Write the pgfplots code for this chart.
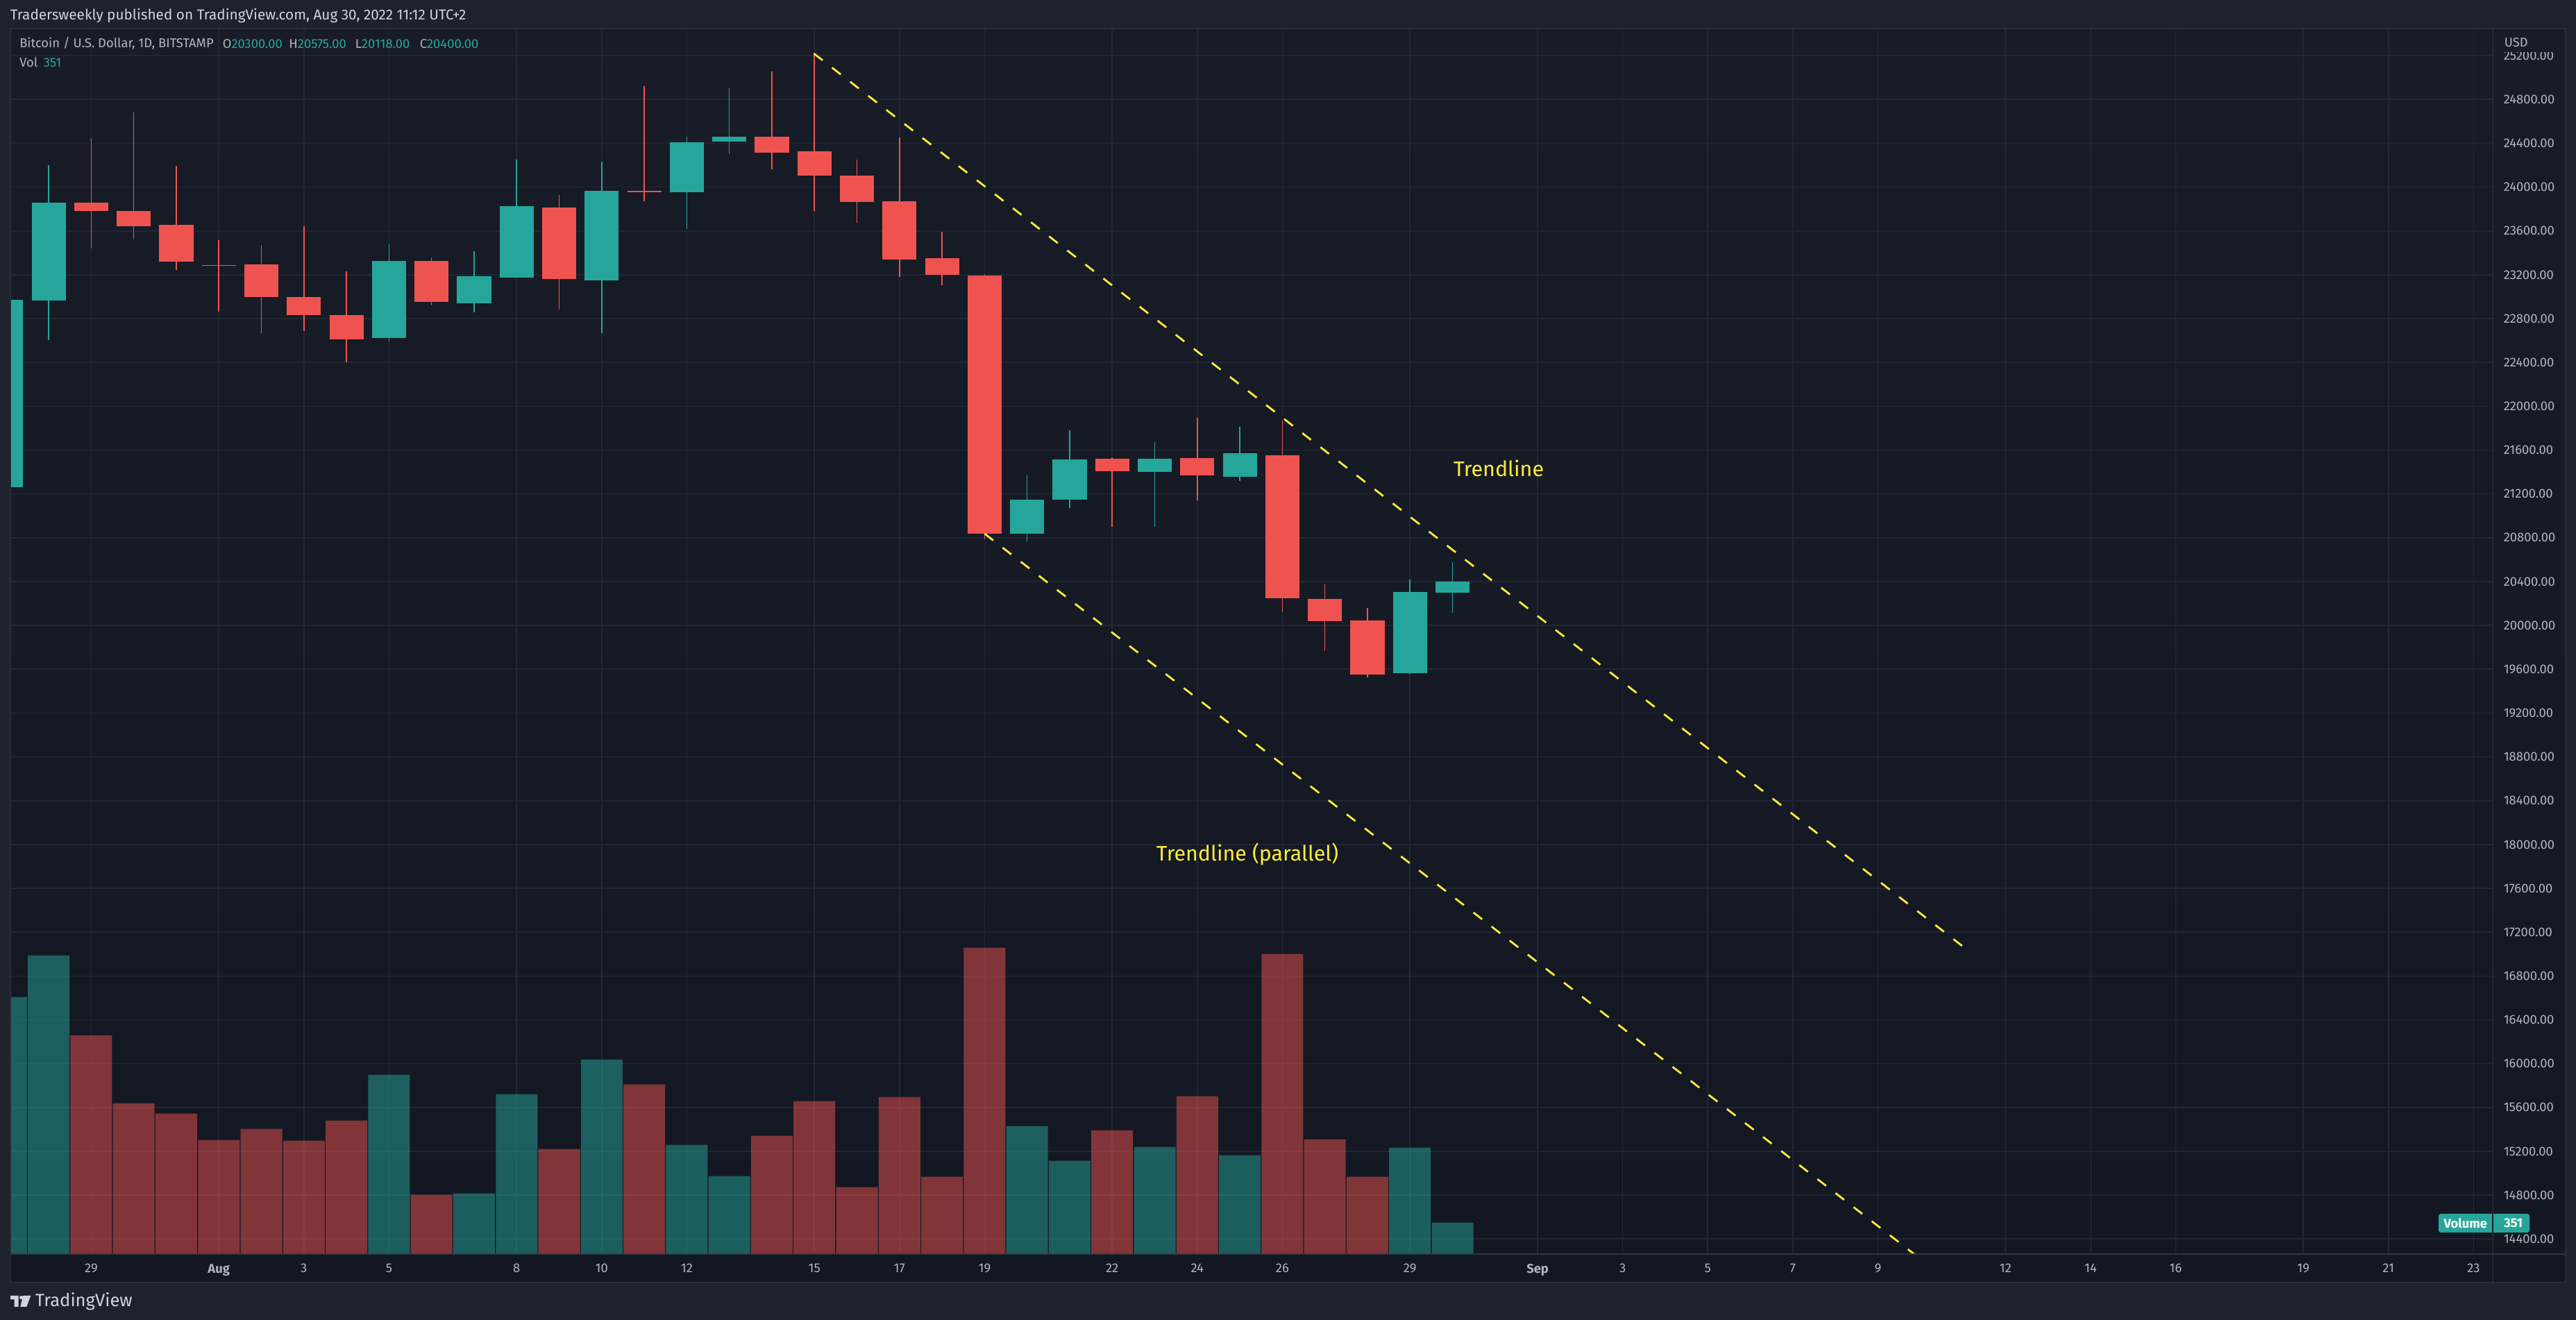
\documentclass[border=0pt]{standalone}
\usepackage{pgfplots}
\usepackage{pgfplotstable}
\usepackage{fontspec}
\pgfplotsset{compat=1.18}
\setmainfont{Fira Sans}
\definecolor{outer}{HTML}{1E222D}
\definecolor{bgA}{HTML}{181C27}
\definecolor{bgB}{HTML}{131722}
\definecolor{frame}{HTML}{2A2E39}
\definecolor{sep}{HTML}{32363F}
\definecolor{gridc}{HTML}{232733}
\definecolor{upc}{HTML}{26A69A}
\definecolor{dnc}{HTML}{EF5350}
\definecolor{txt}{HTML}{B2B5BE}
\definecolor{hdr}{HTML}{D1D4DC}
\definecolor{yel}{HTML}{FFEB3B}
% d = days since Jul 29
\pgfplotstableread{
d open high low close
-2 21262 23000 21100 22972
-1 22968 24201 22604 23859
7 22623 23479 22592 23327
9 22940 23415 22858 23187
10 23175 24251 23175 23827
12 23149 24232 22668 23966
14 23954 24460 23618 24410
15 24416 24904 24302 24460
22 20837 21369 20768 21148
23 21148 21781 21072 21515
25 21401 21673 20901 21521
27 21357 21813 21319 21572
31 19564 20419 19558 20305
32 20300 20575 20118 20400
}\upt
\pgfplotstableread{
d open high low close
0 23859 24448 23443 23783
1 23783 24682 23523 23643
2 23656 24194 23244 23320
3 23289 23517 22864 23282
4 23295 23472 22668 22997
5 22997 23643 22687 22833
6 22833 23232 22402 22611
8 23327 23358 22921 22953
11 23814 23928 22883 23162
13 23966 24923 23871 23954
16 24460 25056 24163 24315
17 24327 25223 23783 24106
18 24106 24251 23675 23865
19 23871 24454 23181 23339
20 23352 23593 23105 23200
21 23194 23206 20787 20837
24 21521 21534 20901 21407
26 21528 21895 21141 21369
28 21553 21870 20122 20248
29 20242 20375 19767 20039
30 20046 20160 19526 19551
}\dnt
\pgfplotstableread{
d vol
-2 2870
-1 3335
7 2002
9 677
10 1785
12 2172
14 1219
15 870
22 1428
23 1041
25 1196
27 1103
31 1188
32 351
}\upv
\pgfplotstableread{
d vol
0 2443
1 1684
2 1568
3 1273
4 1397
5 1266
6 1490
8 661
11 1173
13 1893
16 1320
17 1707
18 746
19 1754
20 863
21 3420
24 1382
26 1762
28 3350
29 1281
30 863
}\dnv
\pgfplotsset{chartbox/.style={
  scale only axis, width=893.875pt, height=441.5pt,
  at={(4pt,23.75pt)}, anchor=south west,
  xmin=-1.883, xmax=56.46}}
\begin{document}
\begin{tikzpicture}
\useasboundingbox (0,0) rectangle (927.75pt,475.5pt);
\fill[outer] (0,0) rectangle (927.75pt,475.5pt);
\begin{scope}[x=.25pt,y=-.25pt,shift={(0pt,475.5pt)}]
\shade[top color=bgA,bottom color=bgB] (15,41) rectangle (3696,1848);
\end{scope}
\begin{axis}[chartbox,
  ymin=14262.6, ymax=25448,
  axis line style={draw=none},
  major tick length=0pt,
  xmajorgrids, ymajorgrids,
  grid style={gridc, line width=.4pt},
  scaled y ticks=false,
  ytick={14400,14800,15200,15600,16000,16400,16800,17200,17600,18000,18400,18800,19200,19600,20000,20400,20800,21200,21600,22000,22400,22800,23200,23600,24000,24400,24800,25200},
  yticklabel pos=right,
  yticklabel style={/pgf/number format/.cd,fixed,fixed zerofill,precision=2,1000 sep={},assume math mode=true,
    /tikz/.cd,anchor=west,inner sep=0pt,xshift=3.6pt,text=txt,font=\fontsize{4.6}{5}\selectfont},
  xtick={-2,0,3,5,7,10,12,14,17,19,21,24,26,28,31,34,36,38,40,42,45,47,49,52,54,56},
  xticklabels={27,29,{\bfseries Aug},3,5,8,10,12,15,17,19,22,24,26,29,{\bfseries Sep},3,5,7,9,12,14,16,19,21,23},
  xticklabel style={anchor=north,inner sep=0pt,yshift=-3.4pt,text=txt,font=\fontsize{4.6}{5}\selectfont},
  clip=true,
]
\addplot[draw=none,mark=none,error bars/.cd,y dir=minus,y explicit,error mark=none,
  error bar style={upc,line width=.38pt}]
  table[x=d,y=high,y error expr=\thisrow{high}-\thisrow{low}] {\upt};
\addplot[draw=none,mark=none,error bars/.cd,y dir=minus,y explicit,error mark=none,
  error bar style={dnc,line width=.38pt}]
  table[x=d,y=high,y error expr=\thisrow{high}-\thisrow{low}] {\dnt};
\addplot[draw=none,mark=none,error bars/.cd,y dir=minus,y explicit,error mark=none,
  error bar style={upc,line width=12.3pt}]
  table[x=d,y=close,y error expr=\thisrow{close}-\thisrow{open}] {\upt};
\addplot[draw=none,mark=none,error bars/.cd,y dir=minus,y explicit,error mark=none,
  error bar style={dnc,line width=12.3pt}]
  table[x=d,y=open,y error expr=\thisrow{open}-\thisrow{close}] {\dnt};
\addplot[yel,line width=.7pt,dash pattern=on 3.95pt off 4.3pt] coordinates {(16.99,25218) (43.98,17075)};
\addplot[yel,line width=.7pt,dash pattern=on 3.95pt off 4.3pt] coordinates {(21.0,20837) (42.85,14263)};
\end{axis}
\begin{axis}[chartbox,
  ymin=0, ymax=13686, hide axis,
  ybar, bar width=15pt, bar shift=0pt, clip=true]
\addplot[fill=upc,fill opacity=.5,draw=none] table[x=d,y=vol] {\upv};
\addplot[fill=dnc,fill opacity=.5,draw=none] table[x=d,y=vol] {\dnv};
\end{axis}
\begin{scope}[x=.25pt,y=-.25pt,shift={(0pt,475.5pt)}]
% masks
\fill[outer] (0,41) rectangle (14,1848);
\fill[bgA] (3594,42) rectangle (3695,75);
% frame and separators
\draw[frame,line width=.5pt] (15,41) rectangle (3696,1848);
\draw[sep,line width=.4pt] (3591.5,41) -- (3591.5,1848);
\draw[sep,line width=.5pt] (15,1807) -- (3591.5,1807);
\draw[sep,line width=.5pt] (3591.5,1807) -- (3696,1807);
% header
\node[anchor=west,inner sep=0pt,text=hdr,font=\fontsize{5.19}{6}\selectfont] at (14,23) {Tradersweekly published on TradingView.com, Aug 30, 2022 11:12 UTC+2};
\node[anchor=west,inner sep=0pt,text=txt,font=\fontsize{4.6}{5}\selectfont] at (27.5,63) {Bitcoin / U.S. Dollar, 1D, BITSTAMP};
\node[anchor=west,inner sep=0pt,text=txt,font=\fontsize{4.6}{5}\selectfont] at (320,63) {O\textcolor{upc}{20300.00}};
\node[anchor=west,inner sep=0pt,text=txt,font=\fontsize{4.6}{5}\selectfont] at (415.6,63) {H\textcolor{upc}{20575.00}};
\node[anchor=west,inner sep=0pt,text=txt,font=\fontsize{4.6}{5}\selectfont] at (511,63) {L\textcolor{upc}{20118.00}};
\node[anchor=west,inner sep=0pt,text=txt,font=\fontsize{4.6}{5}\selectfont] at (604,63) {C\textcolor{upc}{20400.00}};
\node[anchor=west,inner sep=0pt,text=txt,font=\fontsize{4.6}{5}\selectfont] at (27.5,90) {Vol};
\node[anchor=west,inner sep=0pt,text=upc,font=\fontsize{4.6}{5}\selectfont] at (62,90) {351};
\node[text=txt,anchor=west,inner sep=0pt,font=\fontsize{4.6}{5}\selectfont] at (3607,60.7) {USD};
% annotations
\node[text=yel,font=\fontsize{7.6}{9}\selectfont] at (2159,675) {Trendline};
\node[text=yel,font=\fontsize{7.6}{9}\selectfont] at (1797,1231) {Trendline (parallel)};
% volume label
\fill[upc,rounded corners=.8pt] (3513,1749) rectangle (3644,1776);
\draw[bgB,line width=.3pt] (3591,1749) -- (3591,1776);
\node[text=white,font=\fontsize{4.6}{5}\selectfont\bfseries,inner sep=0pt] at (3551.7,1762.5) {Volume};
\node[text=white,font=\fontsize{4.6}{5}\selectfont\bfseries,inner sep=0pt] at (3620.7,1762.5) {351};
% logo
\fill[hdr] (15,1867) -- (26.7,1867) -- (26.7,1883) -- (20.7,1883) -- (20.7,1872.3) -- (15,1872.3) -- cycle;
\fill[hdr] (30.7,1869.7) circle (2.7);
\fill[hdr] (33.3,1867) -- (44.3,1867) -- (38.3,1883) -- (29.3,1883) -- cycle;
\node[anchor=west,inner sep=0pt,text=hdr,font=\fontsize{6.4}{7}\selectfont] at (50,1875) {TradingView};
\end{scope}
\end{tikzpicture}
\end{document}
